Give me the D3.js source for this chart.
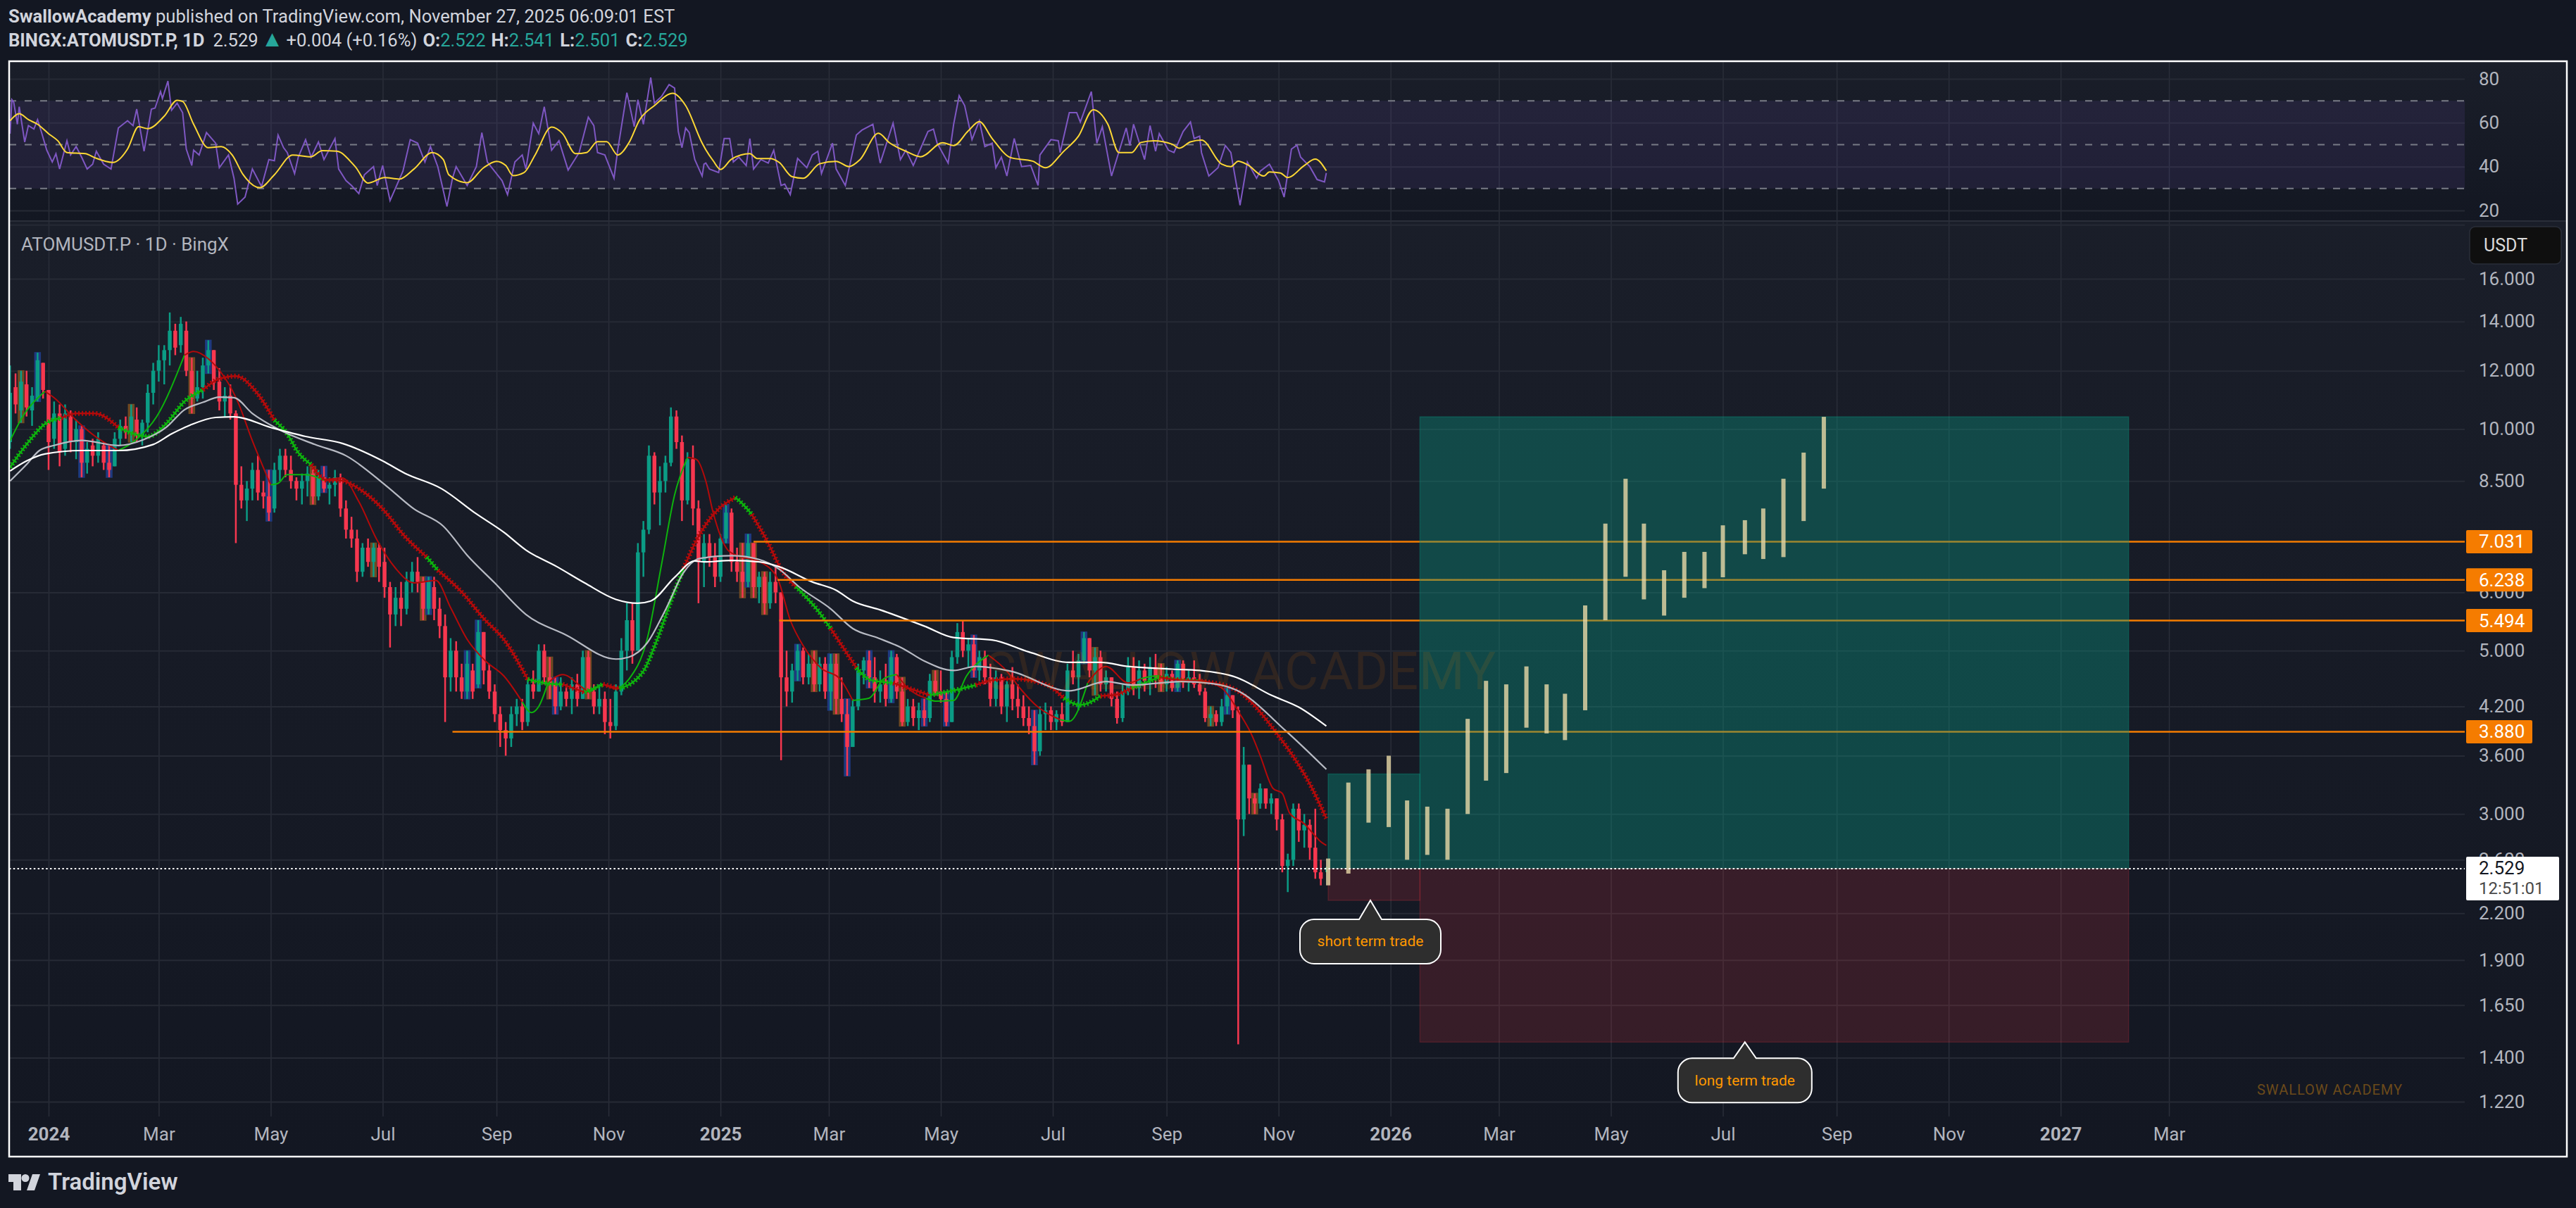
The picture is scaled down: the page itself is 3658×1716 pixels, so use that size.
<!DOCTYPE html>
<html>
<head>
<meta charset="utf-8">
<title>ATOMUSDT.P</title>
<script src="https://cdn.jsdelivr.net/npm/d3@7"></script>
<style>
  html, body { margin: 0; padding: 0; background: #131722; }
  svg { display: block; }
</style>
</head>
<body>
<svg id="chart" width="3658" height="1716"></svg>
<script>
// Candles Run Every 3 Days Starting 21 Days Before 2024-01-01
const candle_first_day = -21;
const candle_step_days = 3;
const candle_open = [
  9.6,11.4,10.6,11.5,10.6,11.0,12.3,11.3,9.7,10.5,
  9.4,10.4,9.6,10.0,9.0,9.5,9.2,9.5,9.0,8.9,
  9.7,10.1,9.9,10.3,9.8,10.2,11.2,12.0,12.4,12.8,
  13.6,13.0,13.6,12.0,11.0,11.4,12.2,12.8,11.6,10.9,
  11.1,10.5,8.4,8.0,8.3,8.8,8.2,8.1,7.8,8.8,
  9.2,8.8,8.5,8.3,8.5,8.7,8.1,8.6,8.3,8.4,
  8.6,7.8,7.3,7.1,6.4,6.9,6.6,6.9,6.6,6.1,
  5.6,5.9,5.7,6.2,6.4,6.2,5.7,6.1,5.7,5.4,
  4.6,5.0,4.6,4.4,4.7,4.5,5.3,4.7,4.4,4.1,
  3.9,3.8,4.1,4.2,4.0,4.5,4.4,5.0,4.6,4.5,
  4.2,4.4,4.3,4.5,4.3,4.9,4.4,4.2,4.3,4.0,
  3.95,4.4,5.0,5.5,5.0,6.8,7.3,9.2,8.2,8.5,
  9.0,10.4,9.6,8.0,9.1,7.8,6.6,7.0,6.7,6.3,
  7.1,7.7,6.6,6.4,6.2,7.0,6.1,6.3,5.8,6.2,
  6.0,4.6,4.4,4.7,5.0,4.6,4.8,4.5,4.8,4.4,
  4.8,4.3,4.1,3.7,4.2,4.7,4.85,4.6,4.4,4.5,
  4.3,4.9,4.4,4.0,4.2,4.05,4.15,4.05,4.55,4.4,
  4.3,4.0,4.9,5.3,5.0,5.1,4.7,4.9,4.6,4.3,
  4.6,4.2,4.5,4.3,4.2,4.05,3.95,3.65,4.1,4.15,
  4.0,4.1,4.0,4.7,4.6,4.85,5.2,4.7,4.9,4.5,
  4.6,4.3,4.05,4.4,4.75,4.45,4.7,4.55,4.75,4.6,
  4.5,4.65,4.45,4.8,4.55,4.6,4.5,4.4,4.05,4.1,
  4.0,4.2,4.35,4.15,2.95,3.5,3.15,3.1,3.25,3.1,
  3.15,2.95,2.55,2.6,3.05,2.85,2.9,2.7,2.5,2.522
];
const candle_high = [
  12.2,11.9,12.0,12.0,11.4,12.7,12.3,11.3,10.9,10.8,
  10.8,10.6,10.3,10.1,9.6,9.7,9.9,9.6,9.5,9.9,
  10.3,10.4,10.8,10.7,10.3,11.5,12.3,13.0,13.0,14.4,
  13.9,14.2,14.0,12.5,12.0,12.5,13.2,12.8,12.1,11.4,
  11.5,10.6,8.9,8.5,9.0,9.2,8.5,8.8,9.0,9.4,
  9.4,9.2,8.6,8.7,8.9,8.9,8.8,8.9,8.6,8.8,
  8.7,8.0,7.6,7.3,7.0,7.1,7.0,7.0,6.9,6.2,
  6.1,6.2,6.4,6.6,6.7,6.3,6.3,6.3,5.9,5.6,
  5.2,5.15,4.8,5.0,4.8,5.5,5.3,4.8,4.5,4.2,
  4.0,4.2,4.3,4.3,4.6,4.7,5.1,5.1,4.9,4.6,
  4.6,4.5,4.6,4.65,5.0,5.0,4.5,4.5,4.4,4.3,
  4.5,5.2,5.8,5.8,7.0,7.5,9.5,9.3,8.9,9.2,
  10.7,10.6,9.8,9.3,9.5,8.0,7.2,7.2,7.0,7.2,
  7.9,7.8,6.9,7.0,7.2,7.0,6.4,6.4,6.4,6.5,
  6.0,5.0,4.8,5.1,5.05,4.95,5.0,4.9,4.9,4.95,
  4.95,4.6,4.3,4.3,4.8,4.9,5.0,4.9,4.7,4.8,
  5.0,4.95,4.6,4.3,4.3,4.25,4.3,4.65,4.7,4.7,
  4.4,5.0,5.45,5.5,5.2,5.25,5.0,5.0,4.8,4.7,
  4.65,4.55,4.75,4.5,4.35,4.2,4.15,4.2,4.25,4.2,
  4.15,4.25,4.8,5.0,4.95,5.3,5.2,5.05,5.0,4.7,
  4.6,4.4,4.5,4.9,4.9,4.85,4.8,4.9,4.95,4.8,
  4.75,4.7,4.85,4.85,4.7,4.85,4.65,4.45,4.2,4.15,
  4.3,4.45,4.35,4.2,3.7,3.5,3.2,3.3,3.25,3.2,
  3.15,3.0,2.65,3.1,3.1,3.0,2.95,3.05,2.6,2.541
];
const candle_low = [
  9.4,10.5,10.2,10.4,10.1,10.9,11.0,8.8,9.4,8.9,
  9.2,9.3,9.1,8.6,8.7,8.9,9.0,8.8,8.6,8.9,
  9.5,9.7,9.6,9.6,9.5,9.9,10.8,11.6,11.5,12.2,
  12.6,12.7,11.8,10.5,10.9,11.0,11.9,11.3,10.6,10.4,
  10.3,7.0,7.8,7.5,8.0,8.0,7.8,7.5,7.7,8.5,
  8.6,8.3,8.0,7.9,8.1,7.9,8.0,8.2,7.9,8.1,
  7.6,7.1,6.9,6.2,6.3,6.5,6.3,6.2,5.9,5.05,
  5.4,5.4,5.6,6.0,6.0,5.5,5.6,5.5,5.2,4.0,
  4.4,4.4,4.3,4.3,4.3,4.45,4.5,4.3,4.0,3.7,
  3.6,3.7,3.95,3.9,3.95,4.3,4.4,4.5,4.3,4.1,
  4.15,4.2,4.1,4.2,4.3,4.3,4.1,4.1,3.85,3.8,
  3.9,4.35,4.7,4.8,5.0,6.3,7.2,7.9,7.4,8.2,
  8.9,9.4,7.5,7.9,7.4,5.8,6.1,6.5,6.1,6.2,
  7.0,6.4,6.2,5.9,6.1,5.9,5.8,5.6,5.7,5.8,
  3.55,4.2,4.25,4.55,4.5,4.5,4.4,4.4,4.3,4.15,
  4.1,4.0,3.38,3.7,4.15,4.5,4.45,4.25,4.25,4.2,
  4.25,4.3,3.95,3.95,3.95,3.9,3.95,4.0,4.35,4.25,
  3.95,4.0,4.8,4.9,4.75,4.6,4.55,4.5,4.2,4.2,
  4.1,4.0,4.15,4.05,3.95,3.85,3.5,3.6,3.9,3.9,
  3.9,3.95,4.0,4.5,4.15,4.8,4.6,4.35,4.4,4.4,
  4.2,3.98,4.0,4.35,4.35,4.3,4.4,4.35,4.45,4.4,
  4.4,4.4,4.4,4.45,4.4,4.45,4.35,4.0,3.95,3.95,
  3.95,4.1,4.05,1.46,2.8,3.0,3.0,3.05,3.05,3.0,
  2.85,2.5,2.35,2.55,2.75,2.7,2.6,2.45,2.4,2.501
];
const candle_close = [
  11.2,10.8,11.6,10.7,11.1,12.4,11.3,9.6,10.5,9.3,
  10.5,9.6,10.0,9.0,9.4,9.2,9.7,9.0,8.8,9.7,
  10.1,9.9,10.4,9.8,10.2,11.2,12.0,12.4,12.8,13.6,
  12.9,13.9,12.0,11.0,11.4,12.2,12.8,11.6,10.9,11.1,
  10.5,8.4,8.0,8.3,8.8,8.2,8.1,7.7,8.8,9.2,
  8.8,8.5,8.3,8.5,8.7,8.1,8.6,8.3,8.4,8.6,
  7.8,7.3,7.1,6.4,6.9,6.6,6.9,6.5,6.1,5.6,
  5.9,5.7,6.2,6.4,6.2,5.7,6.2,5.7,5.4,4.6,
  5.0,4.6,4.4,4.8,4.4,5.3,4.7,4.4,4.1,3.9,
  3.8,4.1,4.2,4.0,4.5,4.4,5.0,4.6,4.5,4.2,
  4.4,4.3,4.5,4.3,4.9,4.4,4.2,4.3,4.0,3.95,
  4.4,5.0,5.5,5.0,6.8,7.3,9.2,8.2,8.5,9.0,
  10.4,9.6,8.0,9.1,7.8,6.6,7.0,6.7,6.3,7.1,
  7.7,6.6,6.4,6.2,7.0,6.1,6.3,5.8,6.2,6.0,
  4.6,4.4,4.7,5.0,4.6,4.8,4.5,4.8,4.4,4.8,
  4.3,4.1,3.7,4.2,4.7,4.85,4.6,4.4,4.5,4.3,
  4.9,4.4,4.0,4.2,4.05,4.15,4.05,4.55,4.4,4.3,
  4.0,4.9,5.3,5.0,5.1,4.7,4.9,4.6,4.3,4.6,
  4.2,4.5,4.3,4.2,4.05,3.95,3.65,4.1,4.15,4.0,
  4.1,4.0,4.7,4.6,4.85,5.2,4.7,4.9,4.5,4.6,
  4.3,4.05,4.4,4.75,4.45,4.7,4.55,4.75,4.6,4.5,
  4.65,4.45,4.8,4.55,4.6,4.5,4.4,4.05,4.1,4.0,
  4.2,4.35,4.15,2.95,3.5,3.15,3.1,3.25,3.1,3.15,
  2.95,2.55,2.6,3.05,2.85,2.9,2.7,2.5,2.45,2.529
];

// Candle Positions That Carry A Blue Or Brown Highlight
const blue_candles = [5,13,18,36,47,57,76,83,85,99,130,134,143,149,152,156,160,166,170,175,186,195,212,221];
const brown_candles = [2,22,33,55,66,75,98,105,133,135,137,146,150,162,168,197,209,218,226];

// Slow White Average (Days Since 2024-01-01, Price)
const ma_white_days = [-21,-12,-2,18,38,57,67,77,91,101,121,140,160,182,194,214,233,248,260,277,292,309,321,328,341,352,357,372,387,398,416,429,438,453,477,493,514,534,556,573,588,612,627,647,666,681,696];
const ma_white_values = [8.77,9.05,9.25,9.35,9.35,9.53,9.85,10.12,10.37,10.39,10.05,9.77,9.56,9.05,8.71,8.3,7.67,7.24,6.85,6.5,6.18,5.87,5.8,5.84,6.29,6.62,6.6,6.63,6.6,6.5,6.2,6.04,5.84,5.68,5.4,5.21,5.17,4.98,4.82,4.82,4.76,4.72,4.7,4.6,4.35,4.19,3.95];

// Grey Average
const ma_grey_days = [-21,-12,-5,3,18,38,52,64,74,84,93,101,111,125,145,162,184,199,215,228,243,260,282,309,316,326,336,346,353,358,372,387,398,409,426,438,452,465,477,493,505,524,556,576,590,617,634,647,674,696];
const ma_grey_values = [8.5,8.95,9.35,9.5,9.65,9.5,9.68,10.05,10.62,10.87,11.05,11.03,10.5,10.0,9.53,9.2,8.37,7.79,7.38,6.74,6.18,5.6,5.25,4.87,4.9,5.12,5.68,6.39,6.65,6.69,6.73,6.65,6.45,6.1,5.7,5.36,5.2,5.04,4.84,4.7,4.76,4.69,4.41,4.54,4.49,4.54,4.51,4.42,3.89,3.45];

// Cross Stitched Average With Its Rising (1) Or Falling (0) Colour
const ma_cross_days = [-21,-12,-2,7,15,25,38,47,54,64,74,84,93,102,113,123,130,136,143,152,158,169,182,194,206,212,226,237,248,261,270,280,292,302,311,324,331,339,346,353,358,365,374,376,383,392,399,407,419,426,440,448,460,468,480,492,505,514,526,544,553,562,573,580,590,605,617,629,647,669,688,696];
const ma_cross_values = [8.87,9.53,10.16,10.35,10.5,10.5,10.05,9.84,9.77,10.16,10.9,11.3,11.7,11.8,11.24,10.28,9.85,9.29,8.95,8.52,8.52,8.3,7.79,7.15,6.7,6.43,5.97,5.53,5.18,4.57,4.52,4.5,4.39,4.5,4.44,4.69,5.14,5.84,6.47,7.07,7.42,7.79,8.07,8.0,7.66,7.0,6.45,6.11,5.67,5.36,4.74,4.56,4.52,4.45,4.35,4.41,4.49,4.56,4.58,4.49,4.31,4.22,4.34,4.35,4.45,4.6,4.56,4.54,4.42,3.86,3.26,2.96];
const ma_cross_rising = [1,1,1,1,0,0,0,1,1,1,1,1,0,0,0,0,1,1,1,0,0,0,0,0,0,1,0,0,0,0,1,1,0,1,0,1,1,1,1,0,0,0,0,1,1,0,0,0,1,1,0,1,1,0,0,1,1,0,0,0,0,1,1,0,0,1,0,0,0,0,0,0];

// Thin Fast Average With Its Rising (1) Or Falling (0) Colour
const ma_thin_days = [-21,-14,-2,3,15,26,38,47,59,74,79,89,103,111,121,125,130,140,150,160,169,179,189,199,211,219,228,238,248,258,263,267,272,280,290,294,302,309,316,326,334,341,348,353,358,362,370,376,387,397,404,411,421,431,438,447,455,462,468,478,483,493,500,512,522,529,539,551,556,566,576,588,595,603,617,627,639,649,655,660,667,672,676,684,690,693,696];
const ma_thin_values = [9.64,10.41,11.25,11.03,10.28,9.75,9.35,9.64,10.41,12.6,12.75,12.33,10.9,9.64,8.4,8.44,8.67,8.67,8.52,8.58,7.97,7.06,6.47,6.18,6.23,5.72,5.18,4.84,4.62,4.26,4.12,4.2,4.52,4.64,4.47,4.39,4.5,4.43,4.57,5.18,6.57,8.14,9.15,9.09,8.5,7.7,6.85,6.72,6.61,6.27,5.5,5.08,4.73,4.58,4.28,4.31,4.58,4.64,4.45,4.31,4.27,4.28,4.62,4.93,4.69,4.45,4.19,4.03,4.01,4.52,4.76,4.52,4.58,4.62,4.57,4.56,4.45,4.1,3.86,3.6,3.25,3.2,3.01,2.91,2.8,2.75,2.72];
const ma_thin_rising = [1,1,1,0,0,0,0,1,1,1,0,0,0,0,0,1,1,1,1,0,0,0,0,0,0,0,0,0,0,0,1,1,1,0,0,0,1,0,1,1,1,1,1,0,0,0,0,0,0,0,0,0,0,0,0,1,1,1,0,0,1,1,1,1,0,0,0,0,1,1,0,0,0,1,1,1,0,0,0,0,0,0,0,0,0,0,0];

// RSI Line
const rsi_days = [-21,-20,-19,-17,-16,-13,-11,-8,-6,-4,-1,2,4,6,10,12,15,18,21,24,26,30,34,38,43,46,48,52,56,58,61,62,65,67,70,73,75,78,79,82,86,91,93,98,101,103,107,111,116,120,123,125,128,130,134,136,140,143,147,150,156,158,162,165,169,172,177,179,182,186,193,197,201,205,208,212,217,220,222,228,233,236,239,242,247,250,254,258,260,264,267,270,274,278,283,289,294,297,299,303,308,310,315,319,321,324,328,330,334,338,341,343,345,347,349,352,356,357,
  358,360,365,368,371,373,376,380,382,384,388,392,395,399,401,404,408,413,416,419,421,427,429,434,440,443,449,453,460,464,467,471,479,482,484,490,493,496,499,503,507,510,514,516,519,522,526,530,535,539,540,546,550,551,556,560,562,568,571,574,579,587,589,591,597,600,603,605,610,613,618,622,624,627,628,632,637,641,644,649,653,658,660,665,670,673,677,680,682,687,691,695,696];
const rsi_values = [55,70.5,69.4,59.3,67.3,51.2,58.7,57.1,61.4,56,47.5,42.1,45.9,38.9,51.8,45.3,49.1,44.3,38.9,41.1,47,41.1,38.9,57.6,60.9,58.7,66.2,47,66.2,66.7,74.2,71,79,65.7,68.9,64.6,48,40.5,47.5,45.3,55.5,50.7,39.5,45.3,34.7,22.9,26.1,38.9,30.9,43.2,42.7,54.4,48.6,46.4,36.8,44.3,52.3,44.3,51.2,43.2,52.8,38.9,33.6,31.4,27.7,36.3,40,31.4,40.5,24.5,37.9,52.3,50.7,42.1,49.1,40,21.8,34.7,40,31.4,40,55.5,42.1,38.9,33.6,27.2,42.1,45.3,38.9,59.8,55,67.3,47.5,51.8,38.4,46.4,62.5,58.7,46.4,45.3,34.7,47.5,73.7,58.2,70.5,59.3,80.6,68.9,72.1,77.4,75.8,56,48.6,57.6,55.5,43.2,35.7,41.1,
  41.6,38.9,37.3,52.8,52.8,42.1,44.3,40.5,52.8,38.9,43.2,41.6,47.5,31.4,32,27.2,43.7,39.5,45.3,47,36.8,50.7,38.9,31.4,54.4,56.6,59.3,41.6,59.8,43.2,47.5,40.5,56,57.1,50.7,41.6,59.3,72.3,67.8,52.3,60.9,49.1,50.7,39.5,44.3,35.7,52.8,40,40.5,31.4,45.3,52.3,51.8,46.4,64.6,64.6,60.3,74.2,50.7,58.2,35.7,57.6,49.6,59.3,43.2,58.7,47,55,47.5,46.4,56,60.3,52.8,53.9,46.4,35.7,39.5,49.6,46.4,22.4,42.1,34.7,37.9,41.1,33.6,26.1,48,49.8,44.3,40,34.1,33,37.1];

// RSI Moving Average
const rsi_ma_days = [-21,-16,-11,-6,0,5,10,20,25,35,43,49,54,63,70,73,79,87,94,100,106,115,123,133,143,149,157,167,174,183,191,199,209,215,218,228,237,244,249,253,259,265,274,280,287,293,299,304,310,316,322,330,340,347,356,
  358,362,366,372,382,386,393,398,405,411,420,429,436,442,452,458,467,475,487,493,501,507,514,524,536,543,553,561,569,577,583,590,595,602,612,616,622,628,639,644,648,653,662,665,671,675,684,690,696];
const rsi_ma_values = [60.9,64.1,61.4,59.3,55,51.8,46.4,45.9,44.1,41.9,48,58.2,57.3,63,70.2,69.7,59.3,48.6,49.1,45.3,36.3,30.4,36.3,45.3,44.5,47.3,47,40,32.5,35,34.3,38.9,46.4,43.2,36.3,32.7,39.5,42.4,40.5,35.9,37.3,45.3,58,55,45.9,46.4,51.4,51.4,45.3,50.7,61.4,67.8,73.4,67.8,50.7,
  47.7,42.7,38.7,43.4,45.9,43.7,43.7,41.9,35.4,34.7,41.3,42.4,40,43.2,55.2,50.9,47,44.5,50.9,49.6,56.3,60.5,52.8,44.1,42.5,39.5,47,53.9,65.9,59.3,46.4,46.4,51,51.8,50.2,48.4,51.3,52.1,41.1,40,42.5,40.9,35.7,37.6,37.1,35,40.5,43.4,38.1];

// Projected Bars Pattern (Days, Top, Bottom)
const projected_days = [697,708,719,730,740,751,762,773,783,794,805,816,826,837,848,859,869,880,891,902,912,924,934,945,956,967];
const projected_top = [2.61,3.31,3.45,3.6,3.13,3.07,3.05,4.04,4.55,4.5,4.76,4.5,4.37,5.76,7.44,8.56,7.44,6.43,6.81,6.81,7.4,7.52,7.8,8.56,9.29,10.39];
const projected_bottom = [2.4,2.49,2.92,2.88,2.6,2.64,2.6,3.0,3.33,3.41,3.93,3.86,3.78,4.15,5.5,6.3,5.87,5.58,5.9,6.08,6.29,6.76,6.66,6.7,7.5,8.3];

// Horizontal Levels
const level_prices = [7.031, 6.238, 5.494, 3.88];
const level_start_days = [384, 397, 398, 220];

// Position Boxes
const entry_price = 2.529;
const long_box = { start: 747, end: 1133, target: 10.39, stop: 1.47 };
const short_box = { start: 697, end: 747, target: 3.4, stop: 2.29 };

// Axis Ticks
const price_ticks = [16, 14, 12, 10, 8.5, 6, 5, 4.2, 3.6, 3, 2.6, 2.2, 1.9, 1.65, 1.4, 1.22];
const rsi_ticks = [80, 60, 40, 20];
const rsi_bands = [70, 50, 30];
const month_ticks = [[2024,0],[2024,2],[2024,4],[2024,6],[2024,8],[2024,10],[2025,0],[2025,2],[2025,4],[2025,6],[2025,8],[2025,10],[2026,0],[2026,2],[2026,4],[2026,6],[2026,8],[2026,10],[2027,0],[2027,2]]
  .map(d => new Date(Date.UTC(d[0], d[1], 1)));

// Layout Of The Frame
const frame = { left: 13, right: 3645, top: 87, bottom: 1643 };
const plot_right = 3500;
const plot_bottom = 1586;
const pane_split = 314;

const main_font = "Roboto, sans-serif";
const up_color = "#0b9c85";
const down_color = "#f7374f";
const rise_color = "#0db30d";
const fall_color = "#b30a0a";
const level_color = "#f57c00";

const svg = d3.select("#chart");

// Scales
const x_time = d3.scaleUtc()
  .domain([Date.UTC(2024, 0, 1), Date.UTC(2027, 2, 1)])
  .range([69, 3080]);
const x_day = day => x_time(Date.UTC(2024, 0, 1 + day));
const y_price = d3.scaleLog().domain([16, 1.22]).range([396, 1565]);
const y_rsi = d3.scaleLinear().domain([80, 20]).range([112, 299]);

// Function To Draw Backgrounds
function draw_background() {
  const defs = svg.append("defs");
  const gradient = defs.append("linearGradient").attr("id", "pane_fill").attr("x1", 0).attr("x2", 0).attr("y1", 0).attr("y2", 1);
  gradient.append("stop").attr("offset", "0").attr("stop-color", "#1a1e29");
  gradient.append("stop").attr("offset", "1").attr("stop-color", "#131722");

  defs.append("clipPath").attr("id", "plot_clip").append("rect")
    .attr("x", frame.left).attr("y", frame.top)
    .attr("width", plot_right - frame.left).attr("height", plot_bottom - frame.top);

  svg.append("rect").attr("x", frame.left).attr("y", frame.top)
    .attr("width", frame.right - frame.left).attr("height", pane_split - frame.top)
    .attr("fill", "url(#pane_fill)");
  svg.append("rect").attr("x", frame.left).attr("y", pane_split)
    .attr("width", frame.right - frame.left).attr("height", frame.bottom - pane_split)
    .attr("fill", "url(#pane_fill)");
}

// Function To Draw Grid Lines
function draw_grid() {
  const grid_x = svg.append("g")
    .attr("transform", `translate(0,${plot_bottom})`)
    .call(d3.axisBottom(x_time).tickValues(month_ticks).tickSize(-(plot_bottom - frame.top)).tickFormat(""));
  grid_x.select(".domain").remove();
  grid_x.selectAll("line").attr("stroke", "#2a2e39").attr("stroke-width", 1.5);

  const grid_y = svg.append("g")
    .attr("transform", `translate(${plot_right},0)`)
    .call(d3.axisLeft(y_price).tickValues(price_ticks.concat([18.95])).tickSize(plot_right - frame.left).tickFormat(""));
  grid_y.select(".domain").remove();
  grid_y.selectAll("line").attr("stroke", "#262a35").attr("stroke-width", 2);

  const grid_rsi = svg.append("g")
    .attr("transform", `translate(${plot_right},0)`)
    .call(d3.axisLeft(y_rsi).tickValues(rsi_ticks).tickSize(plot_right - frame.left).tickFormat(""));
  grid_rsi.select(".domain").remove();
  grid_rsi.selectAll("line").attr("stroke", "#262a35").attr("stroke-width", 2);

  svg.append("line").attr("x1", frame.left).attr("x2", frame.right)
    .attr("y1", pane_split).attr("y2", pane_split)
    .attr("stroke", "#2a2e39").attr("stroke-width", 2);
}

// Function To Draw The RSI Pane
function draw_rsi() {
  svg.append("rect")
    .attr("x", frame.left).attr("width", plot_right - frame.left)
    .attr("y", y_rsi(70)).attr("height", y_rsi(30) - y_rsi(70))
    .attr("fill", "#7e57c2").attr("opacity", 0.12);

  svg.selectAll(".rsi_band").data(rsi_bands).enter().append("line")
    .attr("class", "rsi_band")
    .attr("x1", frame.left).attr("x2", plot_right)
    .attr("y1", d => y_rsi(d)).attr("y2", d => y_rsi(d))
    .attr("stroke", "#787b86").attr("stroke-width", 2).attr("stroke-dasharray", "10 12");

  const line = d3.line().x(d => x_day(d[0])).y(d => y_rsi(d[1]));
  svg.append("path").datum(d3.zip(rsi_days, rsi_values))
    .attr("d", line).attr("fill", "none")
    .attr("stroke", "#7e57c2").attr("stroke-width", 2).attr("clip-path", "url(#plot_clip)");
  svg.append("path").datum(d3.zip(rsi_ma_days, rsi_ma_values))
    .attr("d", line.curve(d3.curveMonotoneX)).attr("fill", "none")
    .attr("stroke", "#fdd835").attr("stroke-width", 2).attr("clip-path", "url(#plot_clip)");
}

// Function To Draw The Candles
function draw_candles() {
  const candles = candle_open.map((open, i) => ({
    index: i,
    day: candle_first_day + i * candle_step_days,
    open: open,
    high: candle_high[i],
    low: candle_low[i],
    close: candle_close[i]
  }));
  const layer = svg.append("g").attr("clip-path", "url(#plot_clip)");

  // Highlights Sit Behind The Candle As Outlined Boxes
  layer.selectAll(".highlight").data(candles.filter(d => blue_candles.includes(d.index) || brown_candles.includes(d.index)))
    .enter().append("rect")
    .attr("class", "highlight")
    .attr("x", d => x_day(d.day) - 4)
    .attr("width", 8)
    .attr("y", d => y_price(d.high))
    .attr("height", d => y_price(d.low) - y_price(d.high))
    .attr("fill", d => blue_candles.includes(d.index) ? "#1f3a80" : "#6f4a22")
    .attr("stroke", d => blue_candles.includes(d.index) ? "#1f3a80" : "#6f4a22")
    .attr("stroke-width", 1.5);

  const colour = d => d.close >= d.open ? up_color : down_color;

  layer.selectAll(".wick").data(candles).enter().append("line")
    .attr("class", "wick")
    .attr("x1", d => x_day(d.day)).attr("x2", d => x_day(d.day))
    .attr("y1", d => y_price(d.high)).attr("y2", d => y_price(d.low))
    .attr("stroke", colour).attr("stroke-width", 2.5);

  layer.selectAll(".body").data(candles).enter().append("rect")
    .attr("class", "body")
    .attr("x", d => x_day(d.day) - 2.75)
    .attr("width", 5.5)
    .attr("y", d => y_price(Math.max(d.open, d.close)))
    .attr("height", d => Math.max(1.5, y_price(Math.min(d.open, d.close)) - y_price(Math.max(d.open, d.close))))
    .attr("fill", colour);
}

// Function To Draw An Average Split Into Runs Of One Colour
function draw_colored_average(days, values, rising, width, dash) {
  const line = d3.line().x(d => x_day(d[0])).y(d => y_price(d[1])).curve(d3.curveMonotoneX);
  const runs = [];
  days.forEach((day, i) => {
    if (i === 0) return;
    const last_run = runs[runs.length - 1];
    if (last_run && last_run.rising === rising[i]) {
      last_run.points.push([day, values[i]]);
    } else {
      runs.push({ rising: rising[i], points: [[days[i - 1], values[i - 1]], [day, values[i]]] });
    }
  });
  const layer = svg.append("g").attr("clip-path", "url(#plot_clip)");
  runs.forEach(run => {
    const path = layer.append("path").attr("d", line(run.points)).attr("fill", "none")
      .attr("stroke", run.rising ? rise_color : fall_color).attr("stroke-width", width);
    if (dash) {
      // The Plus Markers Are A Thin Core With A Wider Broken Stroke
      path.attr("stroke-width", 2.5);
      layer.append("path").attr("d", line(run.points)).attr("fill", "none")
        .attr("stroke", run.rising ? rise_color : fall_color)
        .attr("stroke-width", width).attr("stroke-dasharray", dash);
    }
  });
}

// Function To Draw The Averages
function draw_averages() {
  const line = d3.line().x(d => x_day(d[0])).y(d => y_price(d[1])).curve(d3.curveMonotoneX);
  draw_colored_average(ma_thin_days, ma_thin_values, ma_thin_rising, 2, null);
  draw_colored_average(ma_cross_days, ma_cross_values, ma_cross_rising, 7, "2 3");
  svg.append("path").datum(d3.zip(ma_grey_days, ma_grey_values))
    .attr("d", line).attr("fill", "none").attr("stroke", "#b8bbc4").attr("stroke-width", 2.2).attr("clip-path", "url(#plot_clip)");
  svg.append("path").datum(d3.zip(ma_white_days, ma_white_values))
    .attr("d", line).attr("fill", "none").attr("stroke", "#ffffff").attr("stroke-width", 2.2).attr("clip-path", "url(#plot_clip)");
}

// Function To Draw Levels, Boxes And The Projected Bars
function draw_trade_plan() {
  svg.selectAll(".level").data(level_prices).enter().append("line")
    .attr("class", "level")
    .attr("x1", (d, i) => x_day(level_start_days[i])).attr("x2", plot_right)
    .attr("y1", d => y_price(d)).attr("y2", d => y_price(d))
    .attr("stroke", level_color).attr("stroke-width", 2.5);

  [short_box, long_box].forEach(box => {
    svg.append("rect")
      .attr("x", x_day(box.start)).attr("width", x_day(box.end) - x_day(box.start))
      .attr("y", y_price(box.target)).attr("height", y_price(entry_price) - y_price(box.target))
      .attr("fill", "#089981").attr("fill-opacity", 0.37)
      .attr("stroke", "#089981").attr("stroke-opacity", 0.35).attr("stroke-width", 1.5);
    svg.append("rect")
      .attr("x", x_day(box.start)).attr("width", x_day(box.end) - x_day(box.start))
      .attr("y", y_price(entry_price)).attr("height", y_price(box.stop) - y_price(entry_price))
      .attr("fill", "#f23645").attr("fill-opacity", 0.16)
      .attr("stroke", "#f23645").attr("stroke-opacity", 0.2).attr("stroke-width", 1.5);
  });

  svg.selectAll(".projected").data(projected_days).enter().append("rect")
    .attr("class", "projected")
    .attr("x", d => x_day(d) - 3).attr("width", 6)
    .attr("y", (d, i) => y_price(projected_top[i]))
    .attr("height", (d, i) => y_price(projected_bottom[i]) - y_price(projected_top[i]))
    .attr("fill", "#e8d9a8").attr("opacity", 0.8);

  svg.append("line")
    .attr("x1", frame.left).attr("x2", plot_right)
    .attr("y1", y_price(entry_price)).attr("y2", y_price(entry_price))
    .attr("stroke", "#ffffff").attr("stroke-width", 2).attr("stroke-dasharray", "2.5 3.3");
}

// Function To Draw A Callout Pointing Up At A Spot On The Chart
function draw_callout(day, price, label, half_width, half_base, rise) {
  const tip_x = x_day(day);
  const tip_y = y_price(price);
  const top = tip_y + rise;
  const height = 63;
  const r = 20;
  const path = d3.path();
  path.moveTo(tip_x, tip_y);
  path.lineTo(tip_x + half_base, top);
  path.lineTo(tip_x + half_width - r, top);
  path.arcTo(tip_x + half_width, top, tip_x + half_width, top + r, r);
  path.lineTo(tip_x + half_width, top + height - r);
  path.arcTo(tip_x + half_width, top + height, tip_x + half_width - r, top + height, r);
  path.lineTo(tip_x - half_width + r, top + height);
  path.arcTo(tip_x - half_width, top + height, tip_x - half_width, top + height - r, r);
  path.lineTo(tip_x - half_width, top + r);
  path.arcTo(tip_x - half_width, top, tip_x - half_width + r, top, r);
  path.lineTo(tip_x - half_base, top);
  path.closePath();
  svg.append("path").attr("d", path.toString())
    .attr("fill", "#2e2e2e").attr("stroke", "#ffffff").attr("stroke-width", 2);
  svg.append("text")
    .attr("x", tip_x).attr("y", top + height / 2 + 7)
    .attr("text-anchor", "middle").attr("font-family", main_font).attr("font-size", 21)
    .attr("fill", "#ff9800").text(label);
}

// Function To Draw The Axes And Their Labels
function draw_axes() {
  const price_axis = svg.append("g")
    .attr("transform", `translate(${plot_right},0)`)
    .call(d3.axisRight(y_price).tickValues(price_ticks).tickSize(0).tickPadding(20).tickFormat(d3.format(".3f")));
  price_axis.select(".domain").remove();
  price_axis.attr("font-family", main_font).attr("font-size", 26);
  price_axis.selectAll("text").attr("fill", "#b2b5be");

  const rsi_axis = svg.append("g")
    .attr("transform", `translate(${plot_right},0)`)
    .call(d3.axisRight(y_rsi).tickValues(rsi_ticks).tickSize(0).tickPadding(20));
  rsi_axis.select(".domain").remove();
  rsi_axis.attr("font-family", main_font).attr("font-size", 26);
  rsi_axis.selectAll("text").attr("fill", "#b2b5be");

  const time_axis = svg.append("g")
    .attr("transform", `translate(0,${plot_bottom})`)
    .call(d3.axisBottom(x_time).tickValues(month_ticks).tickSize(0).tickPadding(16)
      .tickFormat(d => d.getUTCMonth() === 0 ? d3.utcFormat("%Y")(d) : d3.utcFormat("%b")(d)));
  time_axis.select(".domain").remove();
  time_axis.attr("font-family", main_font).attr("font-size", 26);
  time_axis.selectAll("text")
    .attr("fill", "#b2b5be")
    .attr("font-weight", d => d.getUTCMonth() === 0 ? 700 : 400);

  // Level Tags
  const tags = svg.selectAll(".tag").data(level_prices).enter().append("g").attr("class", "tag")
    .attr("transform", d => `translate(3502,${y_price(d)})`);
  tags.append("rect").attr("x", 0).attr("y", -16.5).attr("width", 94).attr("height", 33).attr("rx", 2).attr("fill", level_color);
  tags.append("text").attr("x", 18).attr("y", 9).attr("font-family", main_font).attr("font-size", 26)
    .attr("fill", "#ffffff").text(d => d3.format(".3f")(d));

  // Last Price Tag With Countdown
  const current = svg.append("g").attr("transform", `translate(3502,${y_price(entry_price)})`);
  current.append("rect").attr("x", 0).attr("y", -17).attr("width", 132).attr("height", 62).attr("rx", 2).attr("fill", "#ffffff");
  current.append("text").attr("x", 18).attr("y", 8).attr("font-family", main_font).attr("font-size", 26)
    .attr("fill", "#131722").text(d3.format(".3f")(entry_price));
  current.append("text").attr("x", 18).attr("y", 36).attr("font-family", main_font).attr("font-size", 24)
    .attr("fill", "#4a4a4a").text("12:51:01");

  // Currency Button
  svg.append("rect").attr("x", 3507).attr("y", 322).attr("width", 130).attr("height", 53).attr("rx", 8)
    .attr("fill", "#0f0f0f").attr("stroke", "#2a2e39").attr("stroke-width", 1.5);
  svg.append("text").attr("x", 3527).attr("y", 357).attr("font-family", main_font).attr("font-size", 25)
    .attr("fill", "#dbdbdb").text("USDT");
}

// Function To Draw Titles, Watermarks And The Logo
function draw_texts() {
  const title = svg.append("text").attr("x", 12).attr("y", 32)
    .attr("font-family", main_font).attr("font-size", 25.6).attr("fill", "#d1d4dc");
  title.append("tspan").attr("font-weight", 700).text("SwallowAcademy");
  title.append("tspan").text(" published on TradingView.com, November 27, 2025 06:09:01 EST");

  const ohlc = svg.append("text").attr("x", 12).attr("y", 66)
    .attr("font-family", main_font).attr("font-size", 25.6).attr("fill", "#d1d4dc");
  ohlc.append("tspan").attr("font-weight", 700).text("BINGX:ATOMUSDT.P, 1D");
  ohlc.append("tspan").attr("dx", 12).text("2.529");
  ohlc.append("tspan").attr("fill", "#26a69a").attr("dx", 4).attr("font-size", 32).text("▲");
  ohlc.append("tspan").attr("dx", 4).text("+0.004 (+0.16%)");
  [["O:", "2.522"], ["H:", "2.541"], ["L:", "2.501"], ["C:", "2.529"]].forEach(pair => {
    ohlc.append("tspan").attr("font-weight", 700).attr("dx", 8).text(pair[0]);
    ohlc.append("tspan").attr("fill", "#26a69a").text(pair[1]);
  });

  svg.append("text").attr("x", 30).attr("y", 356)
    .attr("font-family", main_font).attr("font-size", 26).attr("fill", "#b2b5be")
    .text("ATOMUSDT.P · 1D · BingX");

  svg.append("text").attr("x", 1399).attr("y", 979)
    .attr("font-family", main_font).attr("font-size", 74).attr("fill", "#f57c00").attr("opacity", 0.11)
    .attr("textLength", 725).text("SWALLOW ACADEMY");

  svg.append("text").attr("x", 3205).attr("y", 1555)
    .attr("font-family", main_font).attr("font-size", 20).attr("fill", "#6b4a1a")
    .attr("textLength", 206).text("SWALLOW ACADEMY");

  // TradingView Logo
  svg.append("path").attr("d", "M12 1668H30V1691H19V1679H12Z M46 1668H57L49 1691H38Z").attr("fill", "#d1d4dc");
  svg.append("circle").attr("cx", 36).attr("cy", 1673.5).attr("r", 5.5).attr("fill", "#d1d4dc");
  svg.append("text").attr("x", 68).attr("y", 1690)
    .attr("font-family", main_font).attr("font-size", 33).attr("font-weight", 600).attr("fill", "#d1d4dc")
    .text("TradingView");
}

// Function To Draw The Outer Frame
function draw_frame() {
  svg.append("rect")
    .attr("x", frame.left).attr("y", frame.top)
    .attr("width", frame.right - frame.left).attr("height", frame.bottom - frame.top)
    .attr("fill", "none").attr("stroke", "#ffffff").attr("stroke-width", 2.5);
}

// Function To Initialize Chart
function init() {
  draw_background();
  draw_grid();
  draw_rsi();
  draw_candles();
  draw_averages();
  draw_trade_plan();
  draw_callout(720, 2.29, "short term trade", 100, 16, 27);
  draw_callout(924, 1.47, "long term trade", 95, 16, 23);
  draw_axes();
  draw_texts();
  draw_frame();
}

init();
</script>
</body>
</html>
